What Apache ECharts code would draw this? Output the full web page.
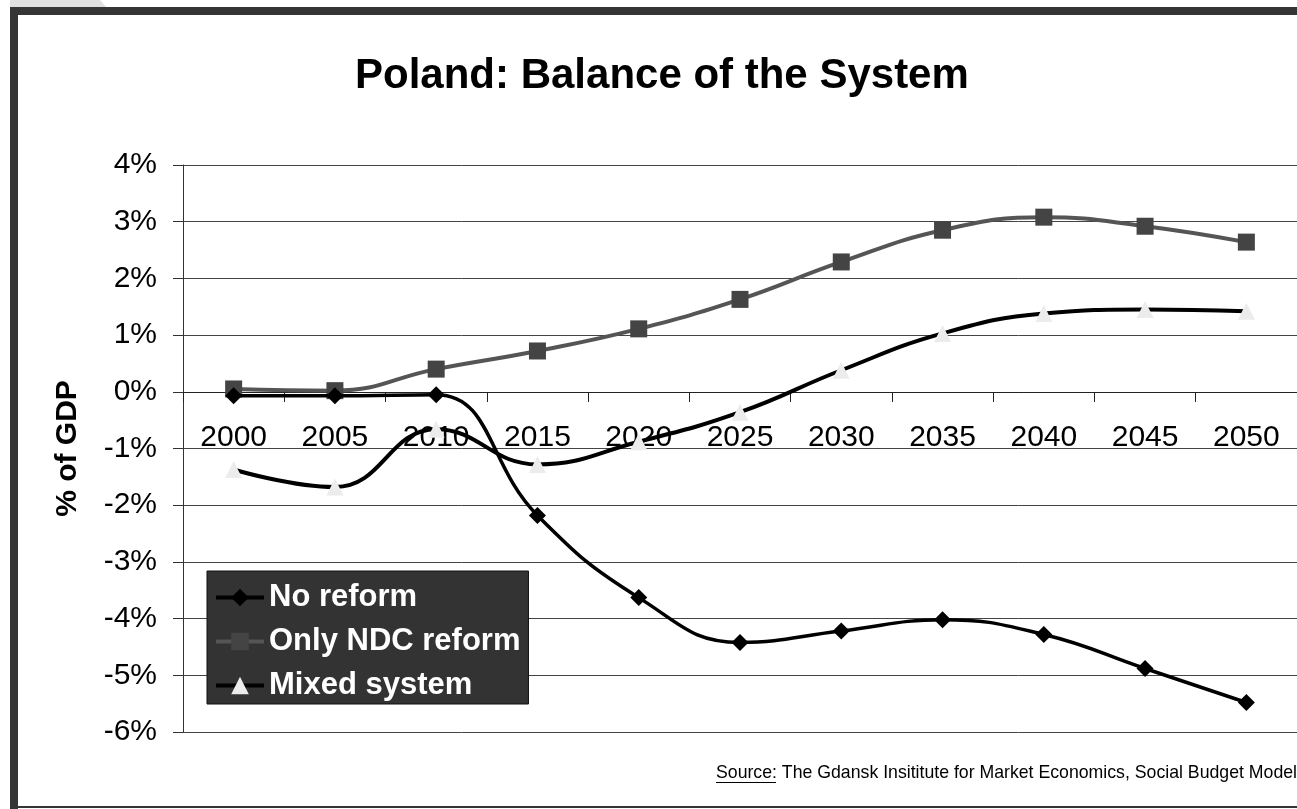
<!DOCTYPE html>
<html><head><meta charset="utf-8">
<script src="https://cdn.jsdelivr.net/npm/echarts@6/dist/echarts.min.js"></script>
<style>html,body{margin:0;padding:0;background:#fff}#c{width:1297px;height:809px}</style>
</head><body><div id="c"></div>
<script>
const years = ['2000','2005','2010','2015','2020','2025','2030','2035','2040','2045','2050'];
const noReform = [-0.07,-0.07,-0.05,-2.18,-3.63,-4.42,-4.22,-4.02,-4.28,-4.88,-5.48];
const onlyNDC = [0.05,0.02,0.40,0.72,1.11,1.63,2.29,2.85,3.08,2.92,2.64];
const mixed = [-1.37,-1.68,-0.66,-1.28,-0.88,-0.36,0.38,1.03,1.38,1.45,1.42];
const FONT = '"Liberation Sans", Arial, sans-serif';
const chart = echarts.init(document.getElementById('c'), null, {renderer:'canvas'});
chart.setOption({
  backgroundColor:'#fff',
  animation:false,
  title:{text:'Poland: Balance of the System',left:350,top:50,
    textStyle:{fontFamily:FONT,fontSize:42,fontWeight:'bold',color:'#000'}},
  grid:{left:183,top:165,bottom:77,right:-8,containLabel:false},
  legend:{left:207,top:571,orient:'vertical',backgroundColor:'#333',borderColor:'#111',borderWidth:1,
    padding:[11,8,3,7],itemGap:13,itemWidth:48,itemHeight:22,
    lineStyle:{width:4},
    textStyle:{fontFamily:FONT,fontSize:31,fontWeight:'bold',color:'#fff',lineHeight:31},
    data:['No reform','Only NDC reform','Mixed system']},
  xAxis:{type:'category',data:years,boundaryGap:true,
    offset:-340,
    axisLine:{onZero:false,lineStyle:{color:'#222',width:1}},
    axisTick:{show:true,length:10,lineStyle:{color:'#222'}},
    axisLabel:{fontFamily:FONT,fontSize:30,color:'#000',margin:31},
    splitLine:{show:false}},
  yAxis:{type:'value',min:-6,max:4,interval:1,
    name:'% of GDP',nameLocation:'middle',nameGap:100,
    nameTextStyle:{fontFamily:FONT,fontSize:30,fontWeight:'bold',color:'#000'},
    axisLine:{show:true,lineStyle:{color:'#333',width:1}},
    axisTick:{show:true,length:10,lineStyle:{color:'#333'}},
    axisLabel:{fontFamily:FONT,fontSize:30,color:'#000',margin:26,formatter:'{value}%'},
    splitLine:{show:true,lineStyle:{color:'#444',width:1}}},
  series:[
    {name:'No reform',type:'line',data:noReform,smooth:0.45,symbol:'diamond',symbolSize:17,
      lineStyle:{color:'#000',width:3.5},itemStyle:{color:'#000'},z:3},
    {name:'Only NDC reform',type:'line',data:onlyNDC,smooth:0.45,symbol:'rect',symbolSize:17,
      lineStyle:{color:'#555',width:4},itemStyle:{color:'#444'},z:2},
    {name:'Mixed system',type:'line',data:mixed,smooth:0.45,symbol:'triangle',symbolSize:17,
      lineStyle:{color:'#000',width:4},itemStyle:{color:'#ececec'},z:2}
  ],
  graphic:[
    {type:'polygon',shape:{points:[[10,0],[100,0],[106,7],[10,7]]},style:{fill:'#e0e0e0'},silent:true},
    {type:'rect',shape:{x:10,y:7,width:1287,height:8},style:{fill:'#353535'},silent:true},
    {type:'rect',shape:{x:10,y:7,width:8,height:802},style:{fill:'#353535'},silent:true},
    {type:'rect',shape:{x:10,y:806,width:1287,height:2},style:{fill:'#353535'},silent:true},
    {type:'text',left:716,top:764,style:{text:'Source: The Gdansk Insititute for Market Economics, Social Budget Model',
      font:'17.7px '+FONT,fill:'#000'},silent:true},
    {type:'rect',shape:{x:716,y:782,width:60,height:1},style:{fill:'#000'},silent:true}
  ]
});
</script></body></html>
